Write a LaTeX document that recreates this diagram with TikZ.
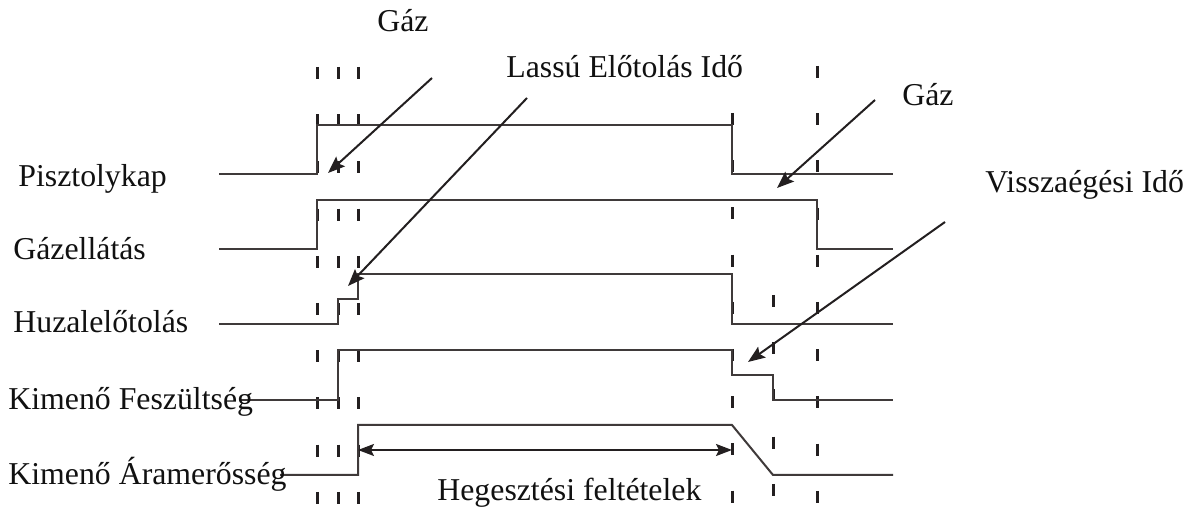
\documentclass[tikz,border=0pt]{standalone}
\usepackage{fontspec}
\setmainfont{Liberation Serif}
\usetikzlibrary{arrows.meta}
\definecolor{sigcol}{HTML}{3F3A3A}
\definecolor{tickcol}{HTML}{231F20}
\definecolor{txtcol}{HTML}{111111}
\begin{document}
\begin{tikzpicture}[x=0.5pt,y=-0.5pt,
  sig/.style={draw=sigcol, line width=1pt, line join=miter},
  tick/.style={draw=tickcol, line width=1.5pt, dash pattern=on 6pt off 17.6pt},
  pointer/.style={draw=tickcol, line width=1pt, -{Stealth[length=8.5pt,width=6.5pt,inset=1.5pt]}},
  span/.style={draw=tickcol, line width=1pt, {Stealth[length=8pt,width=6pt,inset=1.5pt]}-{Stealth[length=8pt,width=6pt,inset=1.5pt]}},
  lbl/.style={anchor=base west, inner sep=0pt, font=\fontsize{15.9pt}{18pt}\selectfont, text=txtcol}]

\useasboundingbox (0,0) rectangle (1200,512);
\fill[white] (0,0) rectangle (1200,512);

% timing marks
\draw[tick] (317,67) -- (317,504);
\draw[tick] (338,67) -- (338,504);
\draw[tick] (358,67) -- (358,504);
\draw[tick] (732,113) -- (732,504);
\draw[tick] (773,295) -- (773,496);
\draw[tick] (817,66) -- (817,504);

% signal traces
\draw[sig] (219,174) -- (317,174) -- (317,125) -- (732,125) -- (732,174) -- (893,174);
\draw[sig] (219,249) -- (317,249) -- (317,200) -- (817,200) -- (817,249) -- (893,249);
\draw[sig] (219,324) -- (338,324) -- (338,299) -- (358,299) -- (358,274) -- (732,274) -- (732,324) -- (893,324);
\draw[sig] (240,400) -- (338,400) -- (338,350) -- (732,350) -- (732,375) -- (773,375) -- (773,400) -- (893,400);
\draw[sig] (280,475) -- (358,475) -- (358,425) -- (732,425) -- (773,475) -- (893,475);

% row labels
\node[lbl] (lpk) at (18,187) {Pisztolykap};
\node[lbl] (lgz) at (13,260) {Gázellátás};
\node[lbl] (lhz) at (13,333) {Huzalelőtolás};
\node[lbl] (lfs) at (8,410) {Kimenő Feszültség};
\node[lbl] (lar) at (8,485) {Kimenő Áramerősség};

% annotations
\node[lbl] (gaz1) at (377,32) {Gáz};
\node[lbl] (lassu) at (506,78) {Lassú Előtolás Idő};
\node[lbl] (gaz2) at (902,106) {Gáz};
\node[lbl] (vissza) at (985,193) {Visszaégési Idő};
\node[lbl] (heg) at (437,501) {Hegesztési feltételek};

\coordinate (a1s) at (432,78);  \coordinate (a1e) at (328,173);
\coordinate (a2s) at (527,98);  \coordinate (a2e) at (348,286);
\coordinate (a3s) at (875,100); \coordinate (a3e) at (777,188);
\coordinate (a4s) at (945,222); \coordinate (a4e) at (748,362);
\coordinate (hl) at (358,450);  \coordinate (hr) at (732,450);

\draw[pointer] (a1s) -- (a1e);
\draw[pointer] (a2s) -- (a2e);
\draw[pointer] (a3s) -- (a3e);
\draw[pointer] (a4s) -- (a4e);
\draw[span] (hl) -- (hr);
\end{tikzpicture}
\end{document}
